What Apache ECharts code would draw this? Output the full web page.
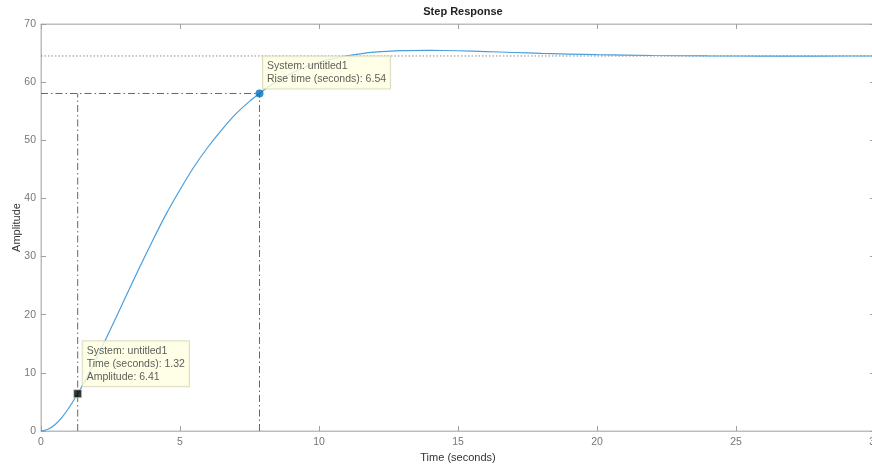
<!DOCTYPE html>
<html>
<head>
<meta charset="utf-8">
<script src="https://cdn.jsdelivr.net/npm/echarts@6/dist/echarts.min.js"></script>
<style>
html,body{margin:0;padding:0;background:#fff;}
#chart{width:872px;height:465px;}
</style>
</head>
<body>
<div id="chart"></div>
<script>
// Step response samples
const timeSec = [0, 0.25, 0.5, 0.75, 1, 1.32, 1.66, 2, 2.5, 3, 3.5, 4, 4.5, 5, 5.5, 6, 6.5, 7, 7.5, 7.86, 8.2, 8.5, 9, 9.5, 10, 10.5, 11, 12, 13, 14, 15, 16, 17, 18, 20, 22, 24, 26, 28, 30];
const amplitude = [0, 0.29, 1.08, 2.32, 3.95, 6.41, 9.3, 12.5, 17.5, 22.6, 27.7, 32.6, 37.3, 41.5, 45.4, 48.8, 51.8, 54.5, 56.7, 58.05, 59.28, 60.2, 61.5, 62.55, 63.4, 64.05, 64.54, 65.16, 65.43, 65.47, 65.4, 65.26, 65.1, 64.95, 64.72, 64.58, 64.51, 64.49, 64.49, 64.5];

// Characteristics
const systemName = 'untitled1';
const riseStartTime = 1.32;
const riseStartAmp = 6.41;
const riseEndTime = 7.86;
const riseEndAmp = 58.05;
const riseTime = 6.54;
const finalValue = 64.5;

// Axes
const xTicks = [0, 5, 10, 15, 20, 25, 30];
const yTicks = [0, 10, 20, 30, 40, 50, 60, 70];

const FONT = '"Liberation Sans", Arial, Helvetica, sans-serif';
const axisGray = '#bdbdbd';
const tickGray = '#a0a0a0';
const curveColor = '#4a9fdc';
const refLineColor = '#666666';
const dashDot = [7, 3, 1.5, 3];

const chart = echarts.init(document.getElementById('chart'), null, {renderer: 'canvas'});

const stepData = timeSec.map((t, i) => [t, amplitude[i]]);

function makeAxis(kind, pos, showLabel) {
  const ticks = kind === 'x' ? xTicks : yTicks;
  return {
    type: 'value',
    gridIndex: 0,
    position: pos,
    min: ticks[0],
    max: ticks[ticks.length - 1],
    interval: ticks[1] - ticks[0],
    axisLine: {show: true, onZero: false, lineStyle: {color: axisGray, width: 1}},
    axisTick: {show: true, inside: true, length: 5, lineStyle: {color: tickGray, width: 1}},
    splitLine: {show: false},
    axisLabel: {show: showLabel, margin: kind === 'x' ? 6 : 5, fontFamily: FONT, fontSize: 10.5, color: '#777'}
  };
}

const xBottom = makeAxis('x', 'bottom', true);
xBottom.name = 'Time (seconds)';
xBottom.nameLocation = 'middle';
xBottom.nameGap = 21;
xBottom.nameMoveOverlap = false;
xBottom.nameTextStyle = {fontFamily: FONT, fontSize: 11, color: '#333'};
const xTop = makeAxis('x', 'top', false);

const yLeft = makeAxis('y', 'left', true);
yLeft.name = 'Amplitude';
yLeft.nameLocation = 'middle';
yLeft.nameGap = 19;
yLeft.nameRotate = 90;
yLeft.nameMoveOverlap = false;
yLeft.nameTextStyle = {fontFamily: FONT, fontSize: 11, color: '#333'};
const yRight = makeAxis('y', 'right', false);

const option = {
  animation: false,
  backgroundColor: '#ffffff',
  title: {
    text: 'Step Response',
    left: 458, top: 1, textAlign: 'center',
    textStyle: {fontFamily: FONT, fontSize: 11, fontWeight: 'bold', color: '#222'}
  },
  grid: {
    left: 41, right: -3, top: 24, bottom: 34,
    containLabel: false, outerBoundsMode: 'none',
    show: true, borderColor: axisGray, borderWidth: 1, backgroundColor: 'transparent'
  },
  xAxis: [xBottom, xTop],
  yAxis: [yLeft, yRight],
  series: [
    {
      name: 'final', type: 'line', silent: true, symbol: 'none',
      data: [[0, finalValue], [xTicks[xTicks.length - 1], finalValue]],
      lineStyle: {color: '#8a8a8a', width: 1, type: [1.5, 2]}, z: 1
    },
    {
      name: 'riseH', type: 'line', silent: true, symbol: 'none',
      data: [[0, riseEndAmp], [riseEndTime, riseEndAmp]],
      lineStyle: {color: refLineColor, width: 1, type: dashDot}, z: 1
    },
    {
      name: 'riseV1', type: 'line', silent: true, symbol: 'none',
      data: [[riseStartTime, 0], [riseStartTime, riseEndAmp]],
      lineStyle: {color: refLineColor, width: 1, type: dashDot}, z: 1
    },
    {
      name: 'riseV2', type: 'line', silent: true, symbol: 'none',
      data: [[riseEndTime, 0], [riseEndTime, riseEndAmp]],
      lineStyle: {color: refLineColor, width: 1, type: dashDot}, z: 1
    },
    {
      name: systemName, type: 'line', symbol: 'none', smooth: 0.2,
      data: stepData,
      lineStyle: {color: curveColor, width: 1.2}, z: 2
    },
    {
      name: 'riseTip', type: 'scatter', symbol: 'circle', symbolSize: 8,
      data: [[riseEndTime, riseEndAmp]],
      itemStyle: {color: '#0072BD'}, z: 5,
      label: {
        show: true, position: [7.5, -33], align: 'left', verticalAlign: 'top',
        formatter: 'System: ' + systemName + '\nRise time (seconds): ' + riseTime.toFixed(2),
        fontFamily: FONT, fontSize: 10.5, color: '#333', lineHeight: 13,
        backgroundColor: '#ffffe1', borderColor: '#d4d4b4', borderWidth: 1,
        padding: [3, 4, 3, 4]
      }
    },
    {
      name: 'startTip', type: 'scatter', symbol: 'rect', symbolSize: 8,
      data: [[riseStartTime, riseStartAmp]],
      itemStyle: {color: '#000', borderColor: '#d8d8b0', borderWidth: 1}, z: 5,
      label: {
        show: true, position: [9.5, -48], align: 'left', verticalAlign: 'top',
        formatter: 'System: ' + systemName + '\nTime (seconds): ' + riseStartTime.toFixed(2) + '\nAmplitude: ' + riseStartAmp.toFixed(2),
        fontFamily: FONT, fontSize: 10.5, color: '#333', lineHeight: 13,
        backgroundColor: '#ffffe1', borderColor: '#d4d4b4', borderWidth: 1,
        padding: [3, 4, 3, 4]
      }
    }
  ]
};

chart.setOption(option);
</script>
</body>
</html>
